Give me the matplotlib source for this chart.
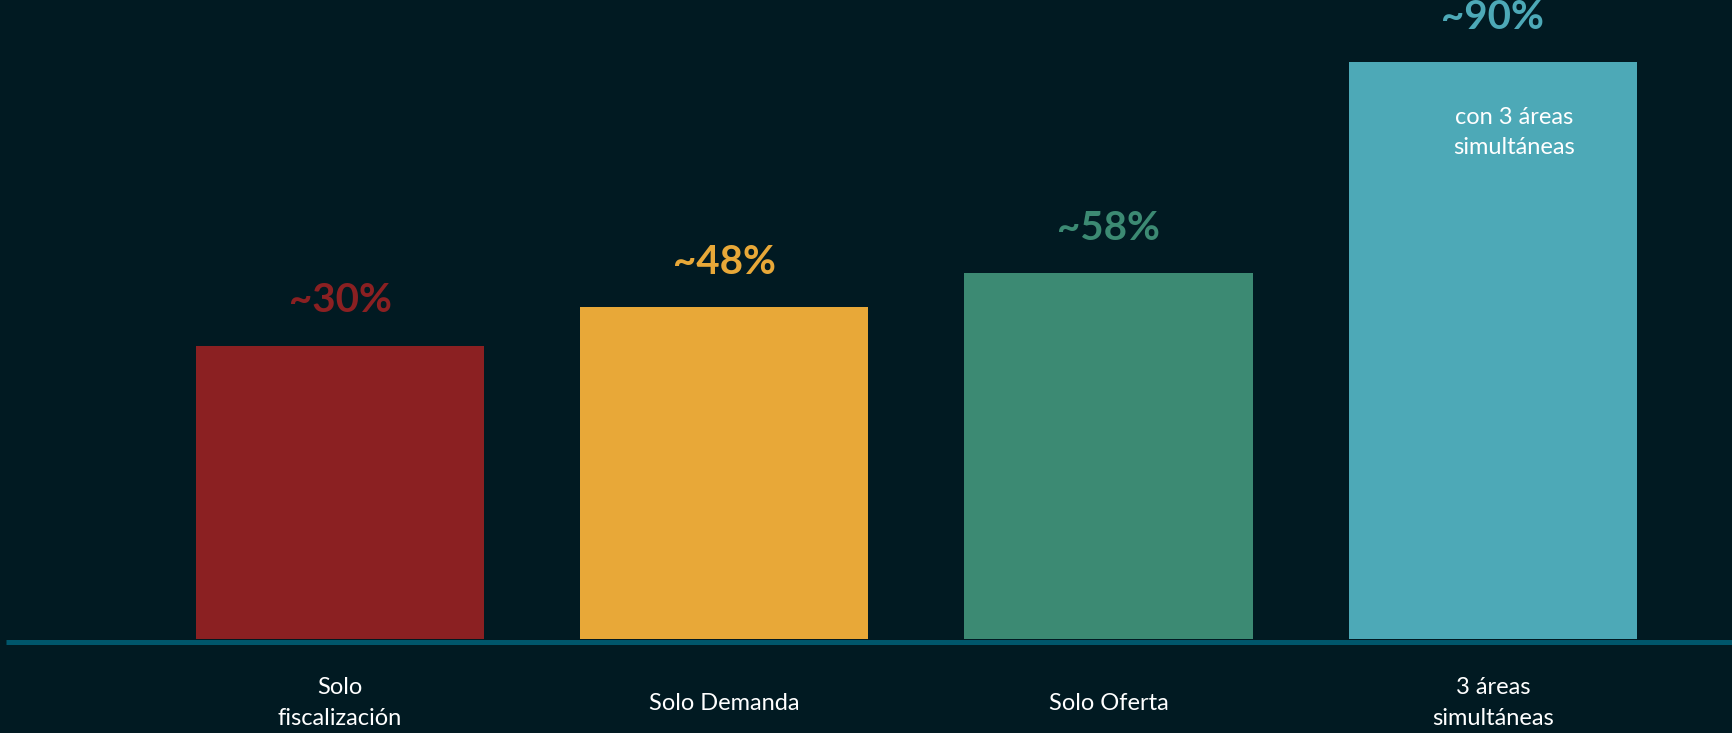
import matplotlib.pyplot as plt

# data
categories = ['Solo\nfiscalización', 'Solo Demanda', 'Solo Oferta', '3 áreas\nsimultáneas']
value_labels = ['~30%', '~48%', '~58%', '~90%']
bar_heights = [50.8, 57.5, 63.4, 100.0]   # visual heights as drawn in the original
colors = ['#8b2022', '#e8a838', '#3c8a73', '#4da9b7']
bg = '#011a22'

fig = plt.figure(figsize=(17.33, 7.33), dpi=100, facecolor=bg)
ax = fig.add_axes([0, 0, 1, 1])
ax.set_facecolor(bg)

x = list(range(len(categories)))
ax.bar(x, bar_heights, width=0.75, color=colors, zorder=2)

# baseline
ax.hlines(-0.45, -0.87, 3.7, color='#00566b', lw=3.6, zorder=3)

for xi, h, lab, c in zip(x, bar_heights, value_labels, colors):
    ax.text(xi, h + 7.8, lab, ha='center', va='center', color=c,
            fontsize=29, fontweight='bold', family='Lato')

for xi, cat in zip(x, categories):
    ax.text(xi, -11.1, cat, ha='center', va='center', color='white',
            fontsize=17, family='Lato', linespacing=1.6)

ax.text(3.055, 87.8, 'con 3 áreas\nsimultáneas', ha='center', va='center',
        color='white', fontsize=17, family='Lato', linespacing=1.5)

ax.set_xlim(-0.885, 3.625)
ax.set_ylim(-16.29, 110.75)
ax.axis('off')

plt.savefig('out.png', dpi=100, facecolor=bg)
plt.close()
